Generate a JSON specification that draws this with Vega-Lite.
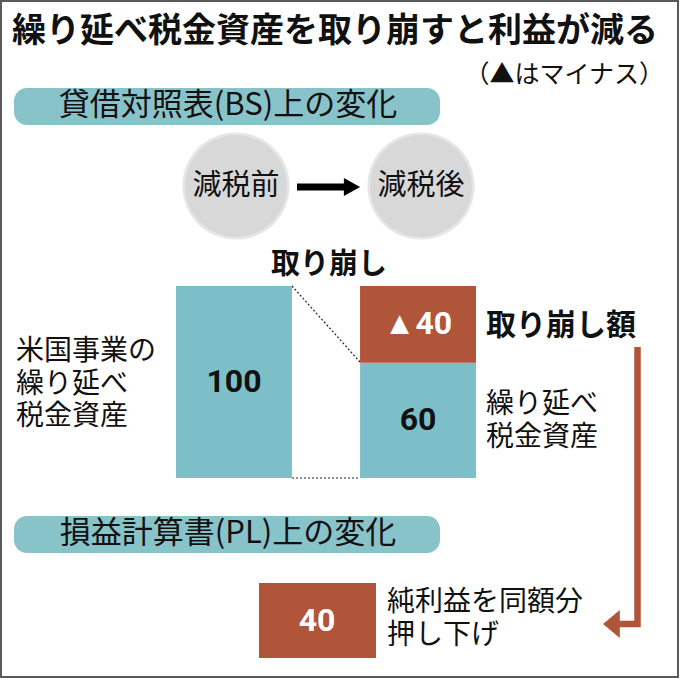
{
  "$schema": "https://vega.github.io/schema/vega-lite/v6.json",
  "width": 680,
  "height": 680,
  "autosize": {"type": "fit", "contains": "padding"},
  "padding": 0,
  "background": "white",
  "config": {"view": {"stroke": null}, "font": "Noto Sans CJK JP"},
  "datasets": {
    "frame": [{"x1": 1, "x2": 678, "y1": 1, "y2": 677}],
    "pills": [
      {"label": "貸借対照表(BS)上の変化", "x1": 14, "x2": 440, "y1": 88, "y2": 125, "tx": 228, "ty": 106},
      {"label": "損益計算書(PL)上の変化", "x1": 14, "x2": 440, "y1": 516, "y2": 553, "tx": 228, "ty": 534}
    ],
    "circles": [
      {"label": "減税前", "x": 236, "y": 186},
      {"label": "減税後", "x": 421, "y": 186}
    ],
    "arrowShaft": [{"x": 297, "x2": 346, "y": 187}],
    "arrowHead": [{"x": 352, "y": 187}],
    "dashes": [
      {"x": 292, "y": 286, "x2": 360, "y2": 362},
      {"x": 292, "y": 478, "x2": 360, "y2": 478}
    ],
    "connector": [
      {"o": 1, "x": 637.5, "y": 347},
      {"o": 2, "x": 637.5, "y": 624},
      {"o": 3, "x": 614, "y": 624}
    ],
    "connectorHead": [{"x": 611.4, "y": 624}],
    "plBox": [{"label": "40", "x1": 259, "x2": 376, "y1": 583, "y2": 658, "tx": 317, "ty": 621}],
    "texts": [
      {"role": "title", "text": "繰り延べ税金資産を取り崩すと利益が減る", "x": 12, "y": 32},
      {"role": "note", "text": "（▲はマイナス）", "x": 664, "y": 75},
      {"role": "plain", "text": "米国事業の\n繰り延べ\n税金資産", "x": 16, "y": 352},
      {"role": "plain", "text": "繰り延べ\n税金資産", "x": 486, "y": 405},
      {"role": "plain", "text": "純利益を同額分\n押し下げ", "x": 387, "y": 603},
      {"role": "boldLeft", "text": "取り崩し額", "x": 486, "y": 326},
      {"role": "boldCenter", "text": "取り崩し", "x": 329, "y": 265}
    ],
    "bars": [
      {"stage": "減税前", "part": "繰り延べ税金資産", "lo": 0, "hi": 100, "mid": 50, "label": "100"},
      {"stage": "減税後", "part": "繰り延べ税金資産", "lo": 0, "hi": 60, "mid": 30, "label": "60"},
      {"stage": "減税後", "part": "取り崩し額", "lo": 60, "hi": 100, "mid": 80, "label": "▲40"}
    ]
  },
  "layer": [
    {
      "encoding": {
        "x": {"type": "quantitative", "scale": {"domain": [0, 680], "nice": false, "zero": false}, "axis": null},
        "y": {"type": "quantitative", "scale": {"domain": [0, 680], "nice": false, "zero": false, "reverse": true}, "axis": null}
      },
      "layer": [
        {
          "data": {"name": "frame"},
          "mark": {"type": "rect", "fill": null, "stroke": "#5a5a5a", "strokeWidth": 2},
          "encoding": {"x": {"field": "x1"}, "x2": {"field": "x2"}, "y": {"field": "y1"}, "y2": {"field": "y2"}}
        },
        {
          "data": {"name": "pills"},
          "mark": {"type": "rect", "fill": "#89c3ca", "cornerRadius": 13},
          "encoding": {"x": {"field": "x1"}, "x2": {"field": "x2"}, "y": {"field": "y1"}, "y2": {"field": "y2"}}
        },
        {
          "data": {"name": "pills"},
          "mark": {"type": "text", "fontSize": 31, "color": "#111", "align": "center", "baseline": "middle"},
          "encoding": {"x": {"field": "tx"}, "y": {"field": "ty"}, "text": {"field": "label"}}
        },
        {
          "data": {"name": "circles"},
          "mark": {"type": "point", "shape": "circle", "filled": true, "color": "#e6e6e6", "opacity": 1, "size": 11500},
          "encoding": {"x": {"field": "x"}, "y": {"field": "y"}}
        },
        {
          "data": {"name": "circles"},
          "mark": {"type": "point", "shape": "circle", "filled": true, "color": "#d8d8d8", "opacity": 1, "size": 10400},
          "encoding": {"x": {"field": "x"}, "y": {"field": "y"}}
        },
        {
          "data": {"name": "circles"},
          "mark": {"type": "text", "fontSize": 29, "color": "#111", "align": "center", "baseline": "middle"},
          "encoding": {"x": {"field": "x"}, "y": {"field": "y"}, "text": {"field": "label"}}
        },
        {
          "data": {"name": "arrowShaft"},
          "mark": {"type": "rule", "color": "#000", "strokeWidth": 7},
          "encoding": {"x": {"field": "x"}, "x2": {"field": "x2"}, "y": {"field": "y"}}
        },
        {
          "data": {"name": "arrowHead"},
          "mark": {"type": "point", "shape": "M-0.9,-1L0.9,0L-0.9,1Z", "filled": true, "color": "#000", "opacity": 1, "size": 324},
          "encoding": {"x": {"field": "x"}, "y": {"field": "y"}}
        },
        {
          "data": {"name": "dashes"},
          "mark": {"type": "rule", "color": "#222", "strokeWidth": 1.2, "strokeDash": [2, 2]},
          "encoding": {"x": {"field": "x"}, "x2": {"field": "x2"}, "y": {"field": "y"}, "y2": {"field": "y2"}}
        },
        {
          "data": {"name": "connector"},
          "mark": {"type": "line", "color": "#b0553a", "strokeWidth": 6.5, "strokeJoin": "miter", "strokeCap": "butt"},
          "encoding": {"x": {"field": "x"}, "y": {"field": "y"}, "order": {"field": "o"}}
        },
        {
          "data": {"name": "connectorHead"},
          "mark": {"type": "point", "shape": "M0.6,-1L-0.6,0L0.6,1Z", "filled": true, "color": "#b0553a", "opacity": 1, "size": 784},
          "encoding": {"x": {"field": "x"}, "y": {"field": "y"}}
        },
        {
          "data": {"name": "plBox"},
          "mark": {"type": "rect", "fill": "#b0553a"},
          "encoding": {"x": {"field": "x1"}, "x2": {"field": "x2"}, "y": {"field": "y1"}, "y2": {"field": "y2"}}
        },
        {
          "data": {"name": "plBox"},
          "mark": {"type": "text", "fontSize": 32, "fontWeight": "bold", "color": "#ffffff", "align": "center", "baseline": "middle", "font": "Roboto"},
          "encoding": {"x": {"field": "tx"}, "y": {"field": "ty"}, "text": {"field": "label"}}
        },
        {
          "data": {"name": "texts"},
          "transform": [{"filter": "datum.role === 'title'"}],
          "mark": {"type": "text", "fontSize": 34, "fontWeight": "bold", "color": "#111", "align": "left", "baseline": "middle"},
          "encoding": {"x": {"field": "x"}, "y": {"field": "y"}, "text": {"field": "text"}}
        },
        {
          "data": {"name": "texts"},
          "transform": [{"filter": "datum.role === 'note'"}],
          "mark": {"type": "text", "fontSize": 25, "color": "#111", "align": "right", "baseline": "middle"},
          "encoding": {"x": {"field": "x"}, "y": {"field": "y"}, "text": {"field": "text"}}
        },
        {
          "data": {"name": "texts"},
          "transform": [{"filter": "datum.role === 'plain'"}],
          "mark": {"type": "text", "fontSize": 28, "color": "#111", "align": "left", "baseline": "middle", "lineBreak": "\n", "lineHeight": 32.5},
          "encoding": {"x": {"field": "x"}, "y": {"field": "y"}, "text": {"field": "text"}}
        },
        {
          "data": {"name": "texts"},
          "transform": [{"filter": "datum.role === 'boldLeft'"}],
          "mark": {"type": "text", "fontSize": 30, "fontWeight": "bold", "color": "#111", "align": "left", "baseline": "middle"},
          "encoding": {"x": {"field": "x"}, "y": {"field": "y"}, "text": {"field": "text"}}
        },
        {
          "data": {"name": "texts"},
          "transform": [{"filter": "datum.role === 'boldCenter'"}],
          "mark": {"type": "text", "fontSize": 29, "fontWeight": "bold", "color": "#111", "align": "center", "baseline": "middle"},
          "encoding": {"x": {"field": "x"}, "y": {"field": "y"}, "text": {"field": "text"}}
        }
      ]
    },
    {
      "data": {"name": "bars"},
      "encoding": {
        "x": {"field": "stage", "type": "nominal", "scale": {"domain": ["減税前", "減税後"], "range": [176, 476], "paddingInner": 0.37, "paddingOuter": 0}, "axis": null},
        "y": {"type": "quantitative", "scale": {"domain": [-105.2, 248.97], "nice": false, "zero": false}, "axis": null}
      },
      "layer": [
        {
          "mark": {"type": "bar"},
          "encoding": {
            "y": {"field": "lo"},
            "y2": {"field": "hi"},
            "color": {"field": "part", "type": "nominal", "scale": {"domain": ["繰り延べ税金資産", "取り崩し額"], "range": ["#7dbfc8", "#b0553a"]}, "legend": null}
          }
        },
        {
          "mark": {"type": "text", "fontSize": 32, "fontWeight": "bold", "align": "center", "baseline": "middle", "font": "Roboto"},
          "encoding": {
            "y": {"field": "mid"},
            "text": {"field": "label"},
            "color": {"condition": {"test": "datum.part === '取り崩し額'", "value": "#ffffff"}, "value": "#111111"}
          }
        }
      ]
    }
  ],
  "resolve": {"scale": {"x": "independent", "y": "independent"}}
}
